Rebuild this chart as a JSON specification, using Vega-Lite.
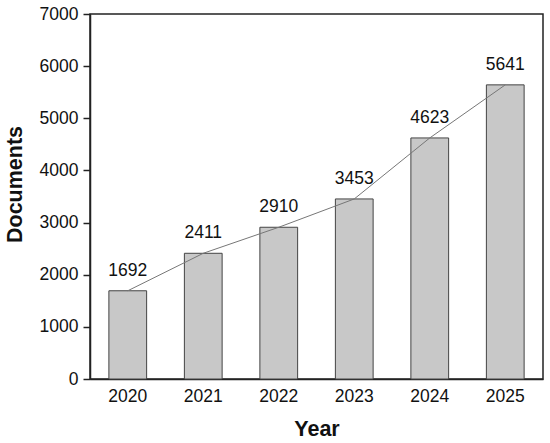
{
  "$schema": "https://vega.github.io/schema/vega-lite/v6.json",
  "autosize": "none",
  "padding": {"left": 90, "top": 14, "right": 7, "bottom": 64},
  "width": 453,
  "height": 365,
  "background": "white",
  "data": {
    "values": [
      {"year": "2020", "docs": 1692},
      {"year": "2021", "docs": 2411},
      {"year": "2022", "docs": 2910},
      {"year": "2023", "docs": 3453},
      {"year": "2024", "docs": 4623},
      {"year": "2025", "docs": 5641}
    ]
  },
  "config": {
    "view": {"stroke": "#222", "strokeWidth": 1.5},
    "font": "Liberation Sans",
    "axis": {
      "grid": false,
      "domainColor": "#222",
      "domainWidth": 1.5,
      "tickColor": "#222",
      "tickWidth": 1.5,
      "labelColor": "#111",
      "labelFontSize": 17.5,
      "labelFont": "Liberation Sans",
      "titleFont": "Liberation Sans",
      "titleFontSize": 21.5,
      "titleFontWeight": "bold",
      "titleColor": "#111"
    }
  },
  "encoding": {
    "x": {
      "field": "year",
      "type": "ordinal",
      "title": "Year",
      "scale": {"paddingInner": 0.5, "paddingOuter": 0.25},
      "axis": {"labelAngle": 0, "ticks": false, "labelPadding": 8, "titlePadding": 14}
    },
    "y": {
      "field": "docs",
      "type": "quantitative",
      "title": "Documents",
      "scale": {"domain": [0, 7000]},
      "axis": {"values": [0, 1000, 2000, 3000, 4000, 5000, 6000, 7000], "format": "d", "tickSize": 7, "labelPadding": 5, "titlePadding": 13, "titleY": 170}
    }
  },
  "layer": [
    {
      "mark": {"type": "bar", "fill": "#c8c8c8", "stroke": "#444", "strokeWidth": 1}
    },
    {
      "mark": {"type": "line", "color": "#777", "strokeWidth": 1}
    },
    {
      "mark": {"type": "text", "baseline": "alphabetic", "dy": -15, "fontSize": 17.5, "color": "#111", "font": "Liberation Sans"},
      "encoding": {"text": {"field": "docs", "type": "quantitative", "format": "d"}}
    }
  ]
}
